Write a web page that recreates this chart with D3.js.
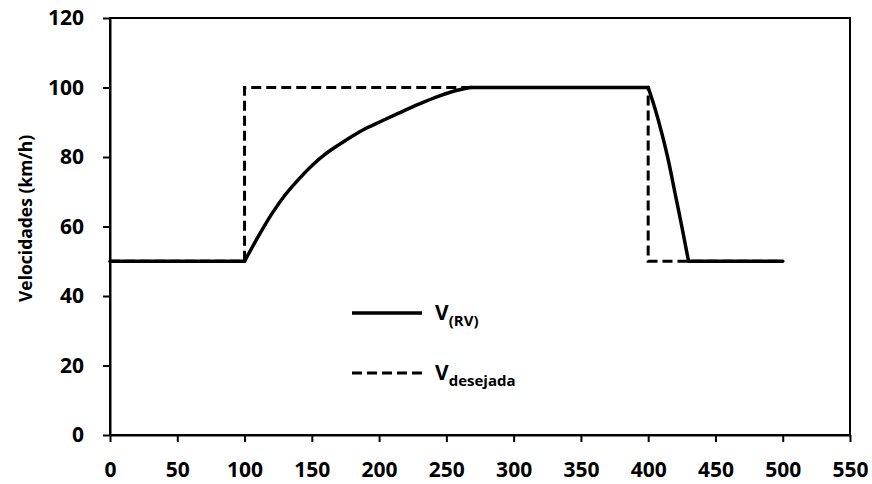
<!DOCTYPE html>
<html>
<head>
<meta charset="utf-8">
<script src="https://cdn.jsdelivr.net/npm/d3@7"></script>
<style>
  body { margin: 0; background: #fff; }
  text { font-family: "Open Sans", sans-serif; font-weight: 700; fill: #000; }
</style>
</head>
<body>
<div id="chart"></div>
<script>
const WIDTH = 872;
const HEIGHT = 484;

// x ticks / y ticks
const xTicks = [0, 50, 100, 150, 200, 250, 300, 350, 400, 450, 500, 550];
const yTicks = [0, 20, 40, 60, 80, 100, 120];

// V(RV)
const rvX = [0, 100, 110, 120, 130, 140, 150, 160, 170, 180, 190, 200, 215, 230, 245, 258, 268, 400, 405, 410, 415, 420, 425, 430, 500];
const rvY = [50, 50, 57, 63.5, 69, 73.5, 77.5, 80.8, 83.5, 86, 88.2, 90, 92.7, 95.3, 97.6, 99.2, 100, 100, 94, 87, 79, 69.5, 60, 50, 50];
// corners of V(RV) where the smooth pieces meet
const rvBreaks = [0, 1, 16, 17, 23, 24];

// V desejada
const desX = [0, 100, 100, 400, 400, 500];
const desY = [50, 50, 100, 100, 50, 50];

const margin = {left: 110, right: 22, top: 18, bottom: 49};

var svg = d3.select("#chart").append("svg")
    .attr("width", WIDTH)
    .attr("height", HEIGHT);

var xScale = d3.scaleLinear()
    .domain([0, 550])
    .range([margin.left, WIDTH - margin.right]);

var yScale = d3.scaleLinear()
    .domain([0, 120])
    .range([HEIGHT - margin.bottom, margin.top]);

// frame
svg.append("rect")
    .attr("x", xScale(0))
    .attr("y", yScale(120))
    .attr("width", xScale(550) - xScale(0))
    .attr("height", yScale(0) - yScale(120))
    .attr("fill", "none")
    .attr("stroke", "#000")
    .attr("stroke-width", 2);

var xAxis = svg.append("g")
    .attr("transform", `translate(0,${yScale(0)})`)
    .call(d3.axisBottom(xScale).tickValues(xTicks).tickSize(7).tickPadding(20).tickSizeOuter(0));

var yAxis = svg.append("g")
    .attr("transform", `translate(${xScale(0)},0)`)
    .call(d3.axisLeft(yScale).tickValues(yTicks).tickSize(7).tickPadding(19).tickSizeOuter(0));

[xAxis, yAxis].forEach(ax => {
    ax.select(".domain").attr("stroke-width", 2);
    ax.selectAll(".tick line").attr("stroke-width", 2);
    ax.selectAll(".tick text")
        .attr("font-size", "21px")
        .attr("font-family", "'Open Sans', sans-serif")
        .attr("font-weight", 700)
        .attr("fill", "#000");
});

svg.append("text")
    .attr("transform", `translate(32,${(yScale(0) + yScale(120)) / 2 - 8}) rotate(-90)`)
    .attr("text-anchor", "middle")
    .attr("font-size", "17.5px")
    .text("Velocidades (km/h)");

var line = d3.line()
    .x(d => xScale(d[0]))
    .y(d => yScale(d[1]));

svg.append("path")
    .datum(desX.map((x, i) => [x, desY[i]]))
    .attr("fill", "none")
    .attr("stroke", "#000")
    .attr("stroke-width", 3)
    .attr("stroke-dasharray", "10,5")
    .attr("d", line);

// V(RV): each piece between corners drawn smooth
var smooth = d3.line()
    .x(d => xScale(d[0]))
    .y(d => yScale(d[1]))
    .curve(d3.curveMonotoneX);

const rvPts = rvX.map((x, i) => [x, rvY[i]]);
for (let k = 0; k < rvBreaks.length - 1; k++) {
    svg.append("path")
        .datum(rvPts.slice(rvBreaks[k], rvBreaks[k + 1] + 1))
        .attr("fill", "none")
        .attr("stroke", "#000")
        .attr("stroke-width", 3.5)
        .attr("stroke-linecap", "round")
        .attr("d", smooth);
}

// legend
var legend = svg.append("g");
const legendItems = [
    {sub: "(RV)", dash: null, y: 313, dy: 7},
    {sub: "desejada", dash: "10,5", y: 373, dy: 7}
];
legendItems.forEach(d => {
    legend.append("line")
        .attr("x1", 352).attr("x2", 422)
        .attr("y1", d.y).attr("y2", d.y)
        .attr("stroke", "#000")
        .attr("stroke-width", d.dash ? 3 : 3.5)
        .attr("stroke-dasharray", d.dash);
    var t = legend.append("text")
        .attr("x", 435)
        .attr("y", d.y + d.dy)
        .attr("font-size", "21px");
    t.append("tspan").text("V");
    t.append("tspan")
        .attr("font-size", "15px")
        .attr("dy", 6)
        .text(d.sub);
});
</script>
</body>
</html>
